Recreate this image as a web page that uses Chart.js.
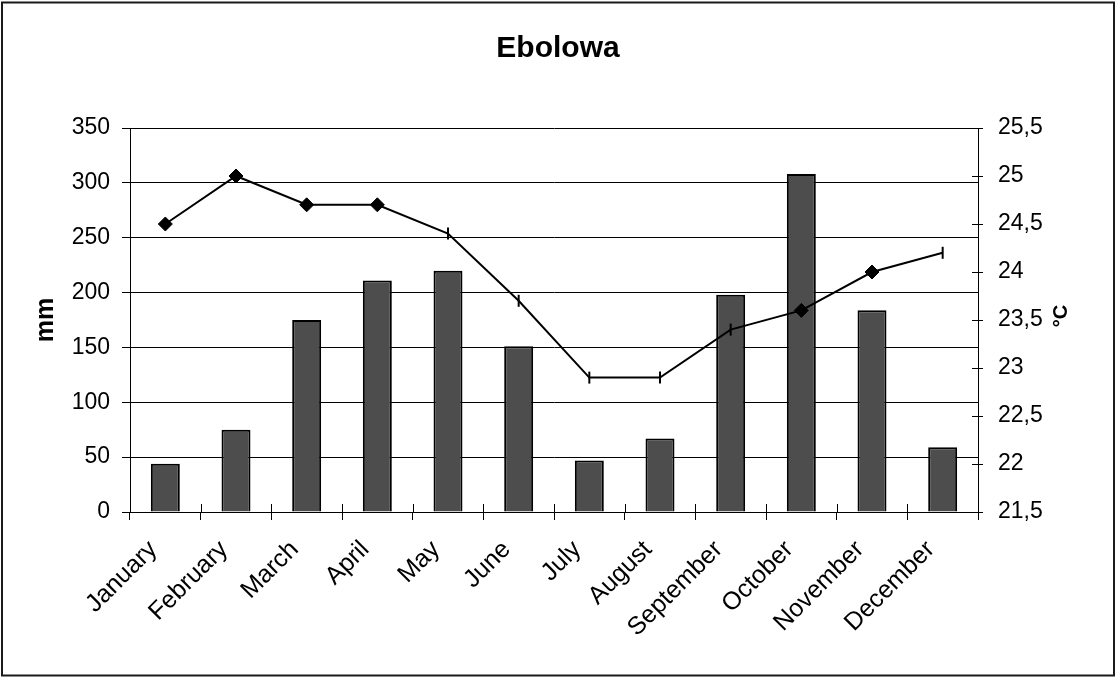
<!DOCTYPE html>
<html>
<head>
<meta charset="utf-8">
<title>Ebolowa</title>
<script src="https://cdn.jsdelivr.net/npm/chart.js@4.4.1/dist/chart.umd.min.js"></script>
<style>
  html, body { margin: 0; padding: 0; background: #fff; }
  #wrap { width: 1116px; height: 677px; }
</style>
</head>
<body>
<div id="wrap"><canvas id="c" width="1116" height="677"></canvas></div>
<script>
// Monthly climate data for Ebolowa
const months = ['January', 'February', 'March', 'April', 'May', 'June',
                'July', 'August', 'September', 'October', 'November', 'December'];
const rainfallMm = [44, 75, 175, 211, 220, 151, 47, 67, 198, 308, 184, 59];
const temperatureC = [24.5, 25.0, 24.7, 24.7, 24.4, 23.7, 22.9, 22.9, 23.4, 23.6, 24.0, 24.2];
const markerShapes = ['rectRot', 'rectRot', 'rectRot', 'rectRot', 'line', 'line',
                      'line', 'line', 'line', 'rectRot', 'rectRot', 'line'];
const rainAxis = { min: 0, max: 350, step: 50 };
const tempAxis = { min: 21.5, max: 25.5, step: 0.5 };

const FONT = '"Liberation Sans", Arial, sans-serif';
const W = 1116, H = 677;

// Frame, title, axis titles and the inner half of the crossing tick marks
const decorations = {
  id: 'decorations',
  beforeDraw(chart) {
    const ctx = chart.ctx;
    ctx.save();
    ctx.fillStyle = '#fff';
    ctx.fillRect(0, 0, chart.width, chart.height);
    ctx.restore();
  },
  afterDraw(chart) {
    const ctx = chart.ctx;
    const a = chart.chartArea;
    const x = chart.scales.x, y1 = chart.scales.y1;
    ctx.save();
    ctx.strokeStyle = '#000';
    ctx.lineWidth = 1;
    ctx.beginPath();
    // category boundary ticks poking into the plot
    const step = (x.getPixelForValue(1) - x.getPixelForValue(0));
    for (let i = 0; i <= months.length; i++) {
      const px = Math.round(x.getPixelForValue(i) - step / 2) + 0.5;
      ctx.moveTo(px, a.bottom);
      ctx.lineTo(px, a.bottom - 8);
    }
    // right axis ticks poking into the plot
    for (let v = tempAxis.min; v <= tempAxis.max + 1e-9; v += tempAxis.step) {
      const py = Math.round(y1.getPixelForValue(v)) + 0.5;
      ctx.moveTo(a.right, py);
      ctx.lineTo(a.right - 6, py);
    }
    ctx.stroke();

    // outer frame
    ctx.strokeStyle = '#1a1a1a';
    ctx.lineWidth = 2;
    ctx.strokeRect(2, 2.5, W - 4, H - 4);

    ctx.fillStyle = '#000';
    ctx.textAlign = 'center';
    ctx.textBaseline = 'middle';
    ctx.font = 'bold 30px ' + FONT;
    ctx.fillText('Ebolowa', W / 2, 49);

    ctx.save();
    ctx.translate(46, 320);
    ctx.rotate(-Math.PI / 2);
    ctx.font = 'bold 25px ' + FONT;
    ctx.fillText('mm', 0, 0);
    ctx.restore();

    ctx.save();
    ctx.translate(1061, 316);
    ctx.rotate(-Math.PI / 2);
    ctx.font = 'bold 20px ' + FONT;
    ctx.fillText('°C', 0, 0);
    ctx.restore();

    ctx.restore();
  }
};

const tickFont = { family: FONT, size: 23 };

new Chart(document.getElementById('c'), {
  data: {
    labels: months,
    datasets: [
      {
        type: 'line',
        label: '°C',
        data: temperatureC,
        yAxisID: 'y1',
        order: 0,
        borderColor: '#000',
        borderWidth: 2,
        tension: 0,
        fill: false,
        pointStyle: markerShapes,
        pointRotation: markerShapes.map(s => s === 'line' ? 90 : 0),
        pointRadius: markerShapes.map(s => s === 'line' ? 6 : 7),
        pointBorderWidth: markerShapes.map(s => s === 'line' ? 2 : 1),
        pointBackgroundColor: '#000',
        pointBorderColor: '#000'
      },
      {
        type: 'bar',
        label: 'mm',
        data: rainfallMm,
        yAxisID: 'y',
        order: 1,
        backgroundColor: '#4d4d4d',
        borderColor: '#000',
        borderWidth: 2,
        barPercentage: 0.41,
        categoryPercentage: 1
      }
    ]
  },
  options: {
    responsive: false,
    devicePixelRatio: 1,
    animation: false,
    layout: { padding: { top: 128, left: 0, right: 0, bottom: 0 } },
    plugins: {
      legend: { display: false },
      title: { display: false },
      tooltip: { enabled: false }
    },
    scales: {
      x: {
        offset: true,
        grid: { offset: true, drawOnChartArea: false, color: '#000', lineWidth: 1, tickLength: 8 },
        border: { color: '#000', width: 1 },
        ticks: {
          color: '#000', font: { family: FONT, size: 25 }, minRotation: 45, maxRotation: 45,
          autoSkip: false, padding: 15, labelOffset: -12
        },
        afterFit(s) { s.height = H - 512; }
      },
      y: {
        position: 'left',
        min: rainAxis.min,
        max: rainAxis.max,
        grid: { color: '#000', lineWidth: 1, tickLength: 8 },
        border: { color: '#000', width: 1 },
        ticks: { stepSize: rainAxis.step, color: '#000', font: tickFont, padding: 12 },
        afterFit(s) { s.width = 130; }
      },
      y1: {
        position: 'right',
        min: tempAxis.min,
        max: tempAxis.max,
        grid: { drawOnChartArea: false, color: '#000', lineWidth: 1, tickLength: 5 },
        border: { color: '#000', width: 1 },
        ticks: {
          stepSize: tempAxis.step, color: '#000', font: tickFont, padding: 15,
          callback: v => String(v).replace('.', ',')
        },
        afterFit(s) { s.width = W - 978; }
      }
    }
  },
  plugins: [decorations]
});
</script>
</body>
</html>
